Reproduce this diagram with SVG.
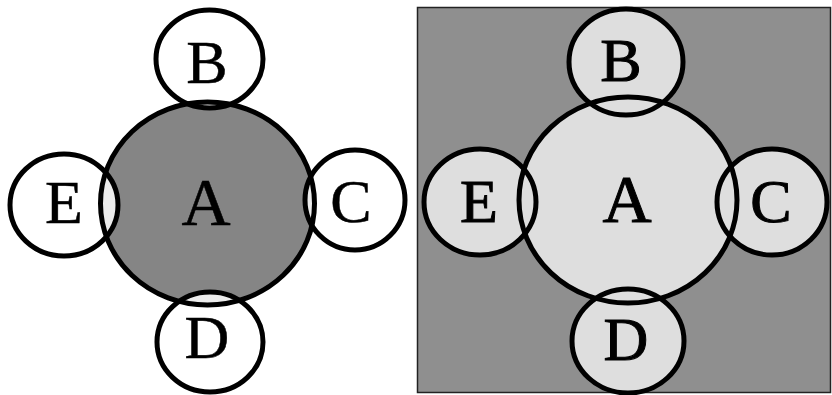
<svg xmlns="http://www.w3.org/2000/svg" width="832" height="395" viewBox="0 0 832 395">
<style>
.ring{fill:none;stroke:#000;stroke-width:5}
.lbl{font-family:"Liberation Serif","Times New Roman",serif;font-size:62px;fill:#000;stroke:#000;stroke-width:0.5;text-anchor:middle}
.lblR{font-family:"Liberation Serif","Times New Roman",serif;font-size:62px;fill:#000;stroke:#000;stroke-width:1;text-anchor:middle}
.big{font-size:68px}
</style>
<defs>
<clipPath id="clipA"><ellipse cx="207.5" cy="203.5" rx="107" ry="101.5"/></clipPath>
</defs>
<rect width="832" height="395" fill="#fff"/>
<!-- Left diagram -->
<g id="left">
<g id="L-fills">
<ellipse cx="207.5" cy="203.5" rx="107" ry="101.5" fill="#858585"/>
<g clip-path="url(#clipA)" fill="#ececec">
<ellipse cx="209.5" cy="59" rx="53.5" ry="49"/>
<ellipse cx="64" cy="205" rx="54" ry="51"/>
<ellipse cx="355" cy="200" rx="50" ry="50"/>
<ellipse cx="210" cy="342" rx="53" ry="50"/>
</g>
</g>
<g id="L-A"><ellipse class="ring" cx="207.5" cy="203.5" rx="107" ry="101.5"/><text class="lbl big" x="206" y="225">A</text></g>
<g id="L-B"><ellipse class="ring" cx="209.5" cy="59" rx="53.5" ry="49"/><text class="lbl" x="207" y="83">B</text></g>
<g id="L-E"><ellipse class="ring" cx="64" cy="205" rx="54" ry="51"/><text class="lbl" x="64" y="223">E</text></g>
<g id="L-C"><ellipse class="ring" cx="355" cy="200" rx="50" ry="50"/><text class="lbl" x="351" y="222">C</text></g>
<g id="L-D"><ellipse class="ring" cx="210" cy="342" rx="53" ry="50"/><text class="lbl" x="207" y="358">D</text></g>
</g>
<!-- Right diagram -->
<g id="right">
<rect x="417.5" y="7.5" width="413" height="385" fill="#8f8f8f" stroke="#222" stroke-width="1.5"/>
<g id="R-fills" fill="#dedede">
<ellipse cx="628" cy="200" rx="109" ry="103"/>
<ellipse cx="626" cy="62" rx="57" ry="53"/>
<ellipse cx="480" cy="202" rx="56" ry="53"/>
<ellipse cx="772" cy="202" rx="55" ry="53"/>
<ellipse cx="628" cy="341" rx="56" ry="52"/>
</g>
<g id="R-A"><ellipse class="ring" cx="628" cy="200" rx="109" ry="103"/><text class="lblR big" x="627" y="222">A</text></g>
<g id="R-B"><ellipse class="ring" cx="626" cy="62" rx="57" ry="53"/><text class="lblR" x="621" y="81">B</text></g>
<g id="R-E"><ellipse class="ring" cx="480" cy="202" rx="56" ry="53"/><text class="lblR" x="479" y="222">E</text></g>
<g id="R-C"><ellipse class="ring" cx="772" cy="202" rx="55" ry="53"/><text class="lblR" x="771" y="222">C</text></g>
<g id="R-D"><ellipse class="ring" cx="628" cy="341" rx="56" ry="52"/><text class="lblR" x="626" y="360">D</text></g>
</g>
</svg>
